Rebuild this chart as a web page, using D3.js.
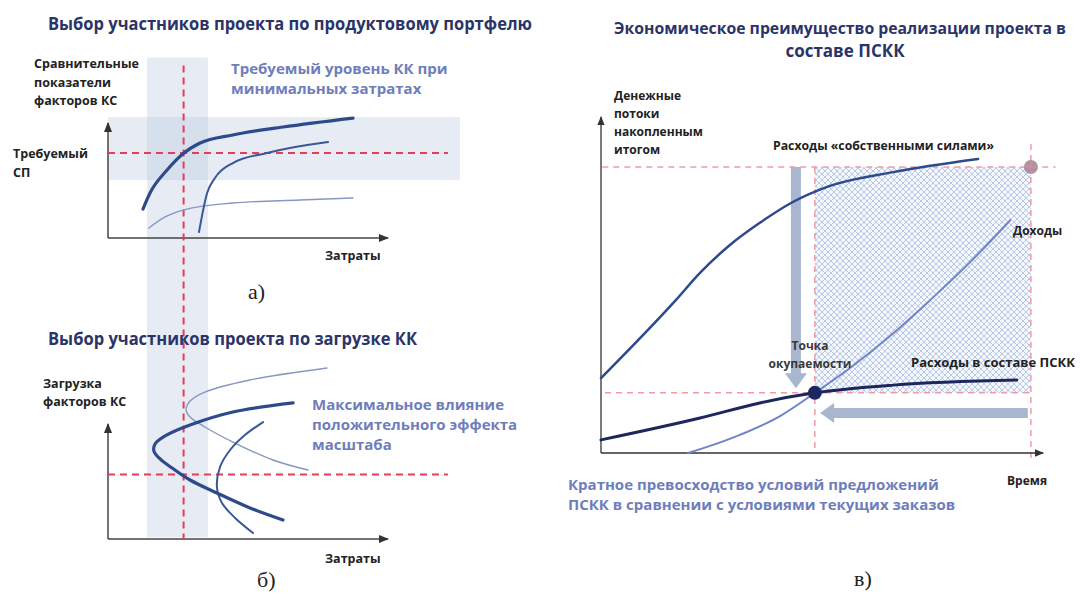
<!DOCTYPE html>
<html><head><meta charset="utf-8">
<script src="https://cdn.jsdelivr.net/npm/d3@7"></script>
<style>body{margin:0;background:#fff} svg text{font-family:"Open Sans",sans-serif}</style>
</head><body><svg id="c" width="1082" height="594"></svg>
<script>
// ---------- data (abstract units) ----------
// Panel a: cost (x) vs comparative indicators (y)
const aThick  = [[1.25,2.52],[1.5,3.91],[2.11,5.91],[2.71,7.39],[3.29,8.26],[4.46,8.96],[6.25,9.65],[8.75,10.43]];
const aMedium = [[3.25,0.52],[3.54,3.91],[3.82,5.22],[4.46,6.52],[5.68,7.39],[6.68,7.91],[7.86,8.35]];
const aThin   = [[1.46,0.87],[2.04,1.83],[2.68,2.43],[4.46,3.04],[6.86,3.30],[8.75,3.48]];
const aRequiredLevel = 7.4;          // required SP level
const aLevelBand = [5.04, 10.52];    // horizontal band
const costOptimum = 2.7;             // optimal cost (red vertical)
const costBand = [1.39, 3.57];       // vertical band
// Panel b: cost (x) vs capacity load (y)
const bThin   = [[7.82,14.87],[5.07,13.83],[3.46,12.78],[2.93,12.0],[2.79,11.22],[2.93,10.61],[3.46,9.74],[4.46,8.43],[5.89,6.87],[7.14,6.0]];
const bThick  = [[6.61,11.83],[4.46,11.04],[2.93,9.91],[2.04,8.96],[1.68,8.26],[1.64,7.65],[1.86,6.96],[2.29,6.17],[2.93,5.13],[3.89,4.0],[5.07,2.70],[6.25,1.65]];
const bMedium = [[5.54,10.17],[4.89,9.04],[4.36,7.74],[4.0,6.26],[3.89,4.52],[4.07,3.13],[4.54,1.83],[5.18,0.52]];
const bLoadLevel = 5.6;
// Panel c: time (x) vs cumulative cash flows (y)
const cOwnForces = [[0,2.23],[1.70,4.55],[2.25,5.36],[2.93,6.19],[3.61,6.85],[4.36,7.47],[5.14,7.92],[6.64,8.36],[8.57,8.75]];
const cPSKK      = [[0,0.39],[2.25,1.04],[3.61,1.49],[4.86,1.79],[6.64,2.02],[9.45,2.17]];
const cIncome    = [[1.98,0],[3.16,0.54],[4.07,1.10],[4.86,1.79],[5.66,2.53],[6.57,3.48],[7.48,4.55],[8.39,5.68],[9.30,6.93]];
const cPayback   = [4.86, 1.79];
const cTopLevel  = 8.51;
const cEndTime   = 9.77;
const cArrowV    = {x:4.43, from:8.51, to:1.93};
const cArrowH    = {y:1.19, from:9.70, to:4.98};

// ---------- texts ----------
const titleA = "Выбор участников проекта по продуктовому портфелю";
const titleB = "Выбор участников проекта по загрузке КК";
const titleC = ["Экономическое преимущество реализации проекта в", "составе ПСКК"];
const yLabelA = ["Сравнительные","показатели","факторов КС"];
const reqLabelA = ["Требуемый","СП"];
const noteA = ["Требуемый уровень КК при","минимальных затратах"];
const yLabelB = ["Загрузка","факторов КС"];
const noteB = ["Максимальное влияние","положительного эффекта","масштаба"];
const xLabelAB = "Затраты";
const yLabelC = ["Денежные","потоки","накопленным","итогом"];
const ownLabel = "Расходы «собственными силами»";
const incomeLabel = "Доходы";
const pskkLabel = "Расходы в составе ПСКК";
const paybackLabel = ["Точка","окупаемости"];
const timeLabel = "Время";
const noteC = ["Кратное превосходство условий предложений","ПСКК в сравнении с условиями текущих заказов"];
const captions = ["а)","б)","в)"];

// ---------- drawing ----------
const svg = d3.select("#c");
const defs = svg.append("defs");
defs.append("marker").attr("id","arr").attr("viewBox","0 0 10 10").attr("refX",9).attr("refY",5)
  .attr("markerWidth",7).attr("markerHeight",7).attr("orient","auto-start-reverse")
  .append("path").attr("d","M0,1 L10,5 L0,9 z").attr("fill","#333");
const pat = defs.append("pattern").attr("id","hatch").attr("patternUnits","userSpaceOnUse")
  .attr("width",6).attr("height",6);
pat.append("rect").attr("width",6).attr("height",6).attr("fill","#f4f7fc");
pat.append("path").attr("d","M0,0 L6,6 M6,0 L0,6 M-1,5 L1,7 M5,-1 L7,1 M-1,1 L1,-1 M5,7 L7,5")
  .attr("stroke","#a9bcdf").attr("stroke-width",0.8);

const RED = "#e63d57", NAVY = "#2a3468", NOTE = "#6e7ebb", DARK = "#222";
const curveCR = d3.curveCatmullRom.alpha(0.5);
const curveFx = d3.curveMonotoneX;

// shared x scale for panels a and b
const xAB = d3.scaleLinear().domain([0,10]).range([108,388]);
const yA  = d3.scaleLinear().domain([0,10]).range([238,123]);
const yB  = d3.scaleLinear().domain([0,10]).range([539,424]);
const lineA = d3.line().x(d=>xAB(d[0])).y(d=>yA(d[1])).curve(curveFx);
const lineB = d3.line().x(d=>xAB(d[0])).y(d=>yB(d[1])).curve(curveCR);

const bandFill = "rgba(176,192,220,0.3)";
svg.append("rect").attr("x",xAB(costBand[0])).attr("width",xAB(costBand[1])-xAB(costBand[0]))
  .attr("y",yA(15.7)).attr("height",yB(0.15)-yA(15.7)).attr("fill",bandFill);
svg.append("rect").attr("x",xAB(0)).attr("width",xAB(12.57)-xAB(0))
  .attr("y",yA(aLevelBand[1])).attr("height",yA(aLevelBand[0])-yA(aLevelBand[1])).attr("fill",bandFill);

function axes(yScale){
  svg.append("line").attr("x1",xAB(0)).attr("y1",yScale(0)).attr("x2",xAB(0)).attr("y2",yScale(10))
    .attr("stroke","#444").attr("stroke-width",1.5).attr("marker-end","url(#arr)");
  svg.append("line").attr("x1",xAB(0)).attr("y1",yScale(0)).attr("x2",xAB(10)).attr("y2",yScale(0))
    .attr("stroke","#444").attr("stroke-width",1.5).attr("marker-end","url(#arr)");
}
axes(yA); axes(yB);

const dashAB = {stroke:RED,"stroke-width":2,"stroke-dasharray":"7,5"};
function dline(x1,y1,x2,y2,st){const l=svg.append("line").attr("x1",x1).attr("y1",y1).attr("x2",x2).attr("y2",y2).attr("fill","none");for(const k in st)l.attr(k,st[k]);return l;}
dline(xAB(0),yA(aRequiredLevel),xAB(12.14),yA(aRequiredLevel),dashAB);
dline(xAB(0),yB(bLoadLevel),xAB(12.14),yB(bLoadLevel),dashAB);
dline(xAB(costOptimum),yA(15.0),xAB(costOptimum),yB(0),dashAB);

const curveStyles = {thick:["#2d4a8a",3.2],medium:["#3b5799",2],thin:["#8797c0",1.4]};
function drawCurve(data,gen,style){svg.append("path").attr("d",gen(data)).attr("fill","none")
  .attr("stroke",curveStyles[style][0]).attr("stroke-width",curveStyles[style][1]).attr("stroke-linecap","round");}
drawCurve(aThin,lineA,"thin"); drawCurve(aMedium,lineA,"medium"); drawCurve(aThick,lineA,"thick");
drawCurve(bThin,lineB,"thin"); drawCurve(bMedium,lineB,"medium"); drawCurve(bThick,lineB,"thick");

function txt(x,y,s,o){const t=svg.append("text").attr("x",x).attr("y",y).text(s);for(const k in o)t.attr(k,o[k]);return t;}
function lines(x,y,arr,dy,o){arr.forEach((s,i)=>txt(x,y+i*dy,s,o));}
const lab = {"font-size":12.5,"font-weight":700,fill:DARK};
const note = {"font-size":15,"font-weight":700,fill:NOTE};
const ttl = {"font-size":17,"font-weight":700,fill:NAVY};
const cap = {"font-size":22,fill:DARK,style:"font-family:'Liberation Serif',serif"};

txt(48,30,titleA,Object.assign({textLength:484,lengthAdjust:"spacingAndGlyphs"},ttl));
lines(34,68,yLabelA,18.5,lab);
lines(13,158,reqLabelA,19,lab);
lines(231,74,noteA,20,note);
txt(325,260,xLabelAB,lab);
txt(248,299,captions[0],cap);

txt(48,345,titleB,Object.assign({textLength:369,lengthAdjust:"spacingAndGlyphs"},ttl));
lines(43,388,yLabelB,18,lab);
lines(312,410,noteB,20,note);
txt(325,563,xLabelAB,lab);
txt(257,587,captions[1],cap);

// ---------- panel c ----------
const xC = d3.scaleLinear().domain([0,10]).range([601,1041]);
const yC = d3.scaleLinear().domain([0,10]).range([453,117]);
const lineC = d3.line().x(d=>xC(d[0])).y(d=>yC(d[1])).curve(curveFx);

svg.append("rect").attr("x",xC(cPayback[0])).attr("y",yC(cTopLevel))
  .attr("width",xC(cEndTime)-xC(cPayback[0])).attr("height",yC(cPayback[1])-yC(cTopLevel))
  .attr("fill","url(#hatch)");
const dashC = {stroke:"#f09aa6","stroke-width":1.5,"stroke-dasharray":"6,5"};
dline(xC(0.03),yC(cTopLevel),xC(10.33),yC(cTopLevel),dashC);
dline(xC(0.09),yC(cPayback[1]),xC(9.8),yC(cPayback[1]),dashC);
dline(xC(cPayback[0]),yC(cTopLevel),xC(cPayback[0]),yC(0),dashC);
dline(xC(cEndTime),yC(9.2),xC(cEndTime),yC(-0.2),dashC);

svg.append("line").attr("x1",xC(0)).attr("y1",yC(0)).attr("x2",xC(0)).attr("y2",yC(10))
  .attr("stroke","#333").attr("stroke-width",1.3).attr("marker-end","url(#arr)");
svg.append("line").attr("x1",xC(0)).attr("y1",yC(0)).attr("x2",xC(10.05)).attr("y2",yC(0))
  .attr("stroke","#333").attr("stroke-width",1.3).attr("marker-end","url(#arr)");

const AG = "#a9b6cf";
{ const x=xC(cArrowV.x), y0=yC(cArrowV.from), y1=yC(cArrowV.to);
  svg.append("path").attr("fill",AG).attr("d",`M${x-5},${y0} L${x+5},${y0} L${x+5},${y1-15} L${x+11},${y1-15} L${x},${y1} L${x-11},${y1-15} L${x-5},${y1-15} Z`); }
{ const y=yC(cArrowH.y), x0=xC(cArrowH.from), x1=xC(cArrowH.to);
  svg.append("path").attr("fill",AG).attr("d",`M${x0},${y-5} L${x0},${y+5} L${x1+14},${y+5} L${x1+14},${y+10} L${x1},${y} L${x1+14},${y-10} L${x1+14},${y-5} Z`); }

svg.append("path").attr("d",lineC(cOwnForces)).attr("fill","none").attr("stroke","#2d4a8e").attr("stroke-width",2.5).attr("stroke-linecap","round");
svg.append("path").attr("d",lineC(cIncome)).attr("fill","none").attr("stroke","#6f86c6").attr("stroke-width",2).attr("stroke-linecap","round");
svg.append("path").attr("d",lineC(cPSKK)).attr("fill","none").attr("stroke","#1c275c").attr("stroke-width",3).attr("stroke-linecap","round");
svg.append("circle").attr("cx",xC(cPayback[0])).attr("cy",yC(cPayback[1])).attr("r",7).attr("fill","#1e2660");
svg.append("circle").attr("cx",xC(cEndTime)).attr("cy",yC(cTopLevel)).attr("r",7).attr("fill","#a08b99").attr("opacity",0.9);
dline(xC(cEndTime)-7,yC(cTopLevel),xC(cEndTime)+7,yC(cTopLevel),{stroke:"#e88a98","stroke-width":1});
dline(xC(cEndTime),yC(cTopLevel)-7,xC(cEndTime),yC(cTopLevel)+7,{stroke:"#e88a98","stroke-width":1});

txt(840,34,titleC[0],Object.assign({},ttl,{"text-anchor":"middle","font-size":15.8,textLength:452,lengthAdjust:"spacingAndGlyphs"}));
txt(845,57,titleC[1],Object.assign({"text-anchor":"middle"},ttl));
const labC = {"font-size":12,"font-weight":700,fill:DARK};
lines(614,100,yLabelC,18,labC);
txt(773,150,ownLabel,Object.assign({textLength:221,lengthAdjust:"spacingAndGlyphs"},labC));
txt(1013,235,incomeLabel,labC);
txt(911,367,pskkLabel,Object.assign({textLength:164,lengthAdjust:"spacingAndGlyphs"},labC));
lines(810,350,paybackLabel,18,{"font-size":12,"font-weight":700,fill:"#3a3a3a","text-anchor":"middle"});
txt(1007,485,timeLabel,labC);
lines(568,490,noteC,20,Object.assign({},note));
txt(854,586,captions[2],cap);
</script></body></html>
